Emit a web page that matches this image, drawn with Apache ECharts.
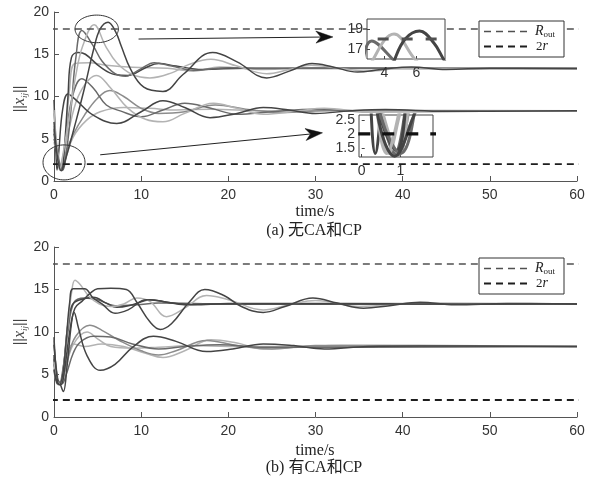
<!DOCTYPE html>
<html><head><meta charset="utf-8">
<script src="https://cdn.jsdelivr.net/npm/echarts@6/dist/echarts.min.js"></script>
<style>html,body{margin:0;padding:0;background:#fff}#c{width:596px;height:482px}</style>
</head><body><div id="c"></div>
<script>
// ---------------- data ----------------
const X_TICKS = [0, 10, 20, 30, 40, 50, 60];
const Y_TICKS = [0, 5, 10, 15, 20];
const INSET1_X_TICKS = [4, 6];
const INSET1_Y_TICKS = [17, 19];
const INSET2_X_TICKS = [0, 1];
const INSET2_Y_TICKS = [1.5, 2, 2.5];
const R_OUT = 18;
const TWO_R = 2;

// (a) without CA and CP — upper group (-> ~13.3)
const a_u1 = [[0,7.0],[0.45,2.4],[0.85,1.2],[1.3,2.5],[2.5,7],[3.5,11],[4.6,15.8],[5.3,18.0],[6.2,18.8],[7.1,17.6],[7.7,16],[8.8,13.2],[10.3,11.1],[12.5,10.6],[14.8,12.6],[18.2,15.2],[21,14.1],[24.4,12.2],[27,13.0],[29.6,13.9],[32,13.5],[34.8,12.9],[37.5,13.2],[41,13.5],[45,13.2],[50,13.35],[60,13.3]];
const a_u2 = [[0,8.4],[0.3,4.0],[0.65,1.3],[1.0,3.0],[1.8,8],[2.5,12.5],[3.3,16],[4.6,18.5],[5.9,16],[7.2,14.0],[9,12.6],[11,12.2],[13.5,12.8],[15.5,13.8],[18,14.4],[21,13.6],[24.4,12.7],[27,13.2],[29.5,13.7],[33,13.3],[36,13.0],[40,13.35],[50,13.3],[60,13.3]];
const a_u3 = [[0,6.2],[0.5,2.6],[1.0,1.3],[1.5,4],[2.0,9],[2.5,14.5],[3.2,17.8],[4.5,16],[5.5,14.2],[7,12.7],[8.2,12.4],[10,13.3],[11.5,14.0],[13.5,13.6],[16,13.1],[20,13.4],[25,13.3],[60,13.3]];
const a_u4 = [[0,5.6],[0.5,2.5],[0.9,1.4],[1.2,4],[1.6,10],[2.0,14.6],[2.8,15.2],[3.6,15.0],[5.3,13.5],[7,12.6],[8.5,12.5],[10.5,13.4],[12,13.9],[14,13.6],[17,13.2],[22,13.35],[60,13.3]];
const a_u5 = [[0,6.5],[0.5,3.0],[0.95,1.3],[1.3,4.5],[1.8,11],[2.4,13.9],[4,14.0],[6,13.7],[9,13.45],[13,13.35],[16,13.0],[19,13.5],[24,13.2],[30,13.4],[60,13.3]];
// (a) lower group (-> ~8.3)
const a_l1 = [[0,9.6],[0.2,4.0],[0.35,1.3],[0.55,3.5],[1.0,8.5],[1.6,10.3],[2.5,9.6],[4.5,7.8],[7.2,6.8],[10,8.2],[12.5,9.5],[15,8.7],[17.9,7.5],[21,8.0],[24,8.7],[27,8.4],[30,8.0],[34,8.3],[38,8.45],[45,8.25],[60,8.3]];
const a_l2 = [[0,5.0],[0.5,2.8],[0.85,1.3],[1.2,3.5],[2.0,9.5],[3.2,12.1],[4.5,11.0],[6,9.0],[7.6,8.3],[10,7.6],[12.5,8.4],[15,9.2],[18,8.6],[21,7.9],[25,8.2],[30,8.5],[36,8.2],[60,8.3]];
const a_l3 = [[0,8.0],[0.4,3.5],[0.7,1.3],[1.0,2.8],[1.8,6.5],[3.0,10.5],[4.9,12.5],[6.5,11.0],[8.5,8.6],[10.5,7.3],[12.5,7.0],[15,8.0],[18.3,9.2],[21,8.6],[24,7.9],[28,8.3],[31,8.6],[36,8.2],[60,8.3]];
const a_l4 = [[0,6.0],[0.5,2.6],[0.95,1.25],[1.3,3.2],[2.2,5.5],[3.5,7.8],[5,9.8],[6.4,10.7],[8,10.0],[10,8.6],[12,8.0],[15,8.2],[18.5,9.0],[22,8.5],[26,8.1],[32,8.35],[60,8.3]];
const a_l5 = [[0,4.6],[0.5,2.5],[0.9,1.35],[1.3,2.5],[2.2,5.2],[3.75,7.2],[5.3,8.2],[8,8.7],[11,8.6],[14,8.4],[18,8.5],[24,8.3],[60,8.3]];

// (b) with CA and CP — upper group
const b_u1 = [[0,5.6],[0.4,4.0],[0.8,3.8],[1.2,5.5],[1.8,10],[2.4,12.8],[3.2,13.6],[4.2,14.6],[5,15.1],[6.5,15.15],[8.3,15.0],[9.5,13.5],[11,11.2],[12.2,10.3],[13.5,11.0],[15.5,13.5],[17.3,15.0],[19.5,14.3],[21.5,13.0],[24,12.3],[26.5,13.0],[29.7,14.0],[32.5,13.4],[35.5,12.8],[38.5,13.1],[42,13.5],[46,13.2],[52,13.35],[60,13.3]];
const b_u2 = [[0,6.5],[0.4,4.2],[0.7,3.9],[1.1,6],[1.6,11],[2.0,14.5],[2.4,16.1],[3.0,15.6],[4.0,14.2],[5.2,13.3],[6.5,13.0],[8,13.3],[9.5,14.0],[11,13.6],[12.9,11.8],[15,12.8],[17.5,14.3],[20,13.8],[24,12.6],[27,13.2],[30,13.7],[35,13.0],[42,13.4],[60,13.3]];
const b_u3 = [[0,9.4],[0.3,5],[0.6,3.8],[1.0,5],[1.4,9],[1.8,13.5],[2.2,15.1],[3.5,15.1],[4.5,14.0],[5.5,13.3],[7,12.2],[8.5,12.6],[10.6,13.8],[12.5,13.6],[15,13.2],[18,13.3],[60,13.3]];
const b_u4 = [[0,7.3],[0.35,4],[0.7,3.9],[1.1,6],[1.6,11],[2.1,13.2],[3,13.8],[4.5,14.1],[6,13.4],[7.2,12.9],[9,13.2],[11,13.8],[13,13.5],[16,13.2],[20,13.35],[60,13.3]];
const b_u5 = [[0,6.2],[0.3,4.2],[0.6,3.9],[1.0,5.5],[1.6,10],[2.3,13.5],[3.5,14.0],[5,13.8],[7,13.1],[9.5,13.2],[12,13.4],[20,13.3],[60,13.3]];
// (b) lower group
const b_l1 = [[0,8.5],[0.4,4.5],[0.7,3.9],[1.07,3.0],[1.5,6],[2.0,11],[2.3,12.3],[2.8,10.5],[3.8,7.2],[5.3,5.5],[7,6.2],[9,8.2],[11.4,9.5],[14,8.9],[17.5,7.7],[20.5,8.0],[24,8.6],[27.5,8.4],[31,8.0],[36,8.3],[42,8.35],[60,8.3]];
const b_l2 = [[0,5.5],[0.3,4.0],[0.6,3.8],[1.0,4.5],[1.6,7],[2.5,9.5],[4.1,10.8],[5.5,10.2],[7.5,9.0],[10,7.8],[12,7.3],[14,7.8],[17.5,9.0],[21,8.4],[25,8.0],[30,8.4],[60,8.3]];
const b_l3 = [[0,7.0],[0.4,4.5],[0.8,4.0],[1.3,5.5],[2.2,8.5],[3.8,10.0],[5,9.2],[6.5,8.3],[9,8.1],[12,8.2],[16,8.4],[20,8.3],[60,8.3]];
const b_l4 = [[0,6.8],[0.4,4.2],[0.9,3.9],[1.4,5.0],[2.2,7.5],[3,8.8],[4.5,9.5],[6.5,9.4],[9,8.6],[12,8.0],[15,8.3],[19,8.5],[24,8.2],[60,8.3]];
const b_l5 = [[0,9.0],[0.3,5.5],[0.7,4.0],[1.1,4.8],[1.5,7.5],[2.2,8.6],[3.5,8.3],[5.5,8.6],[8,8.3],[10.5,7.5],[12.5,7.0],[15,7.8],[18,9.1],[21,8.7],[24,8.0],[28,8.2],[33,8.45],[60,8.3]];

// annotation anchors (data units of plot a)
const ELLIPSE_TOP = [4.9, 18.0];
const ELLIPSE_BOT = [1.15, 2.2];
const ARROW_TOP = [[9.7, 16.8], [32.0, 17.05]];
const ARROW_BOT = [[5.3, 3.1], [30.8, 5.7]];

// ---------------- styles ----------------
const DK = '#444444', MD = '#6a6a6a', GR = '#8c8c8c', LT = '#b3b3b3';
const A_CURVES = [a_l5, a_l4, a_l2, a_l3, a_l1, a_u5, a_u4, a_u3, a_u2, a_u1];
const A_COLORS = [LT, GR, MD, LT, DK, LT, DK, MD, LT, DK];
const B_CURVES = [b_l3, b_l5, b_l2, b_l4, b_l1, b_u5, b_u4, b_u2, b_u3, b_u1];
const B_COLORS = [LT, LT, GR, MD, DK, MD, DK, LT, DK, DK];

const SANS = 'Liberation Sans';
const SERIF = 'Liberation Serif';

const chart = echarts.init(document.getElementById('c'), null, {renderer: 'canvas'});

function curve(data, color, xi, width, z) {
  return {type: 'line', data: data, xAxisIndex: xi, yAxisIndex: xi, symbol: 'none', smooth: 0.4,
    clip: true, silent: true, z: z, lineStyle: {color: color, width: width}};
}
function hline(v, xi, color, width, dash, z) {
  return {type: 'line', data: [[-10, v], [70, v]], xAxisIndex: xi, yAxisIndex: xi, symbol: 'none',
    clip: true, silent: true, z: z, lineStyle: {color: color, width: width, type: dash}};
}
function mainX(gi) {
  return {type: 'value', gridIndex: gi, min: 0, max: 60, interval: 10,
    axisLine: {show: true, lineStyle: {color: '#555', width: 1}},
    axisTick: {show: true, inside: true, length: 5, lineStyle: {color: '#555'}},
    axisLabel: {show: true, color: '#333', fontFamily: SANS, fontSize: 14, margin: 7},
    splitLine: {show: false}};
}
function mainY(gi) {
  return {type: 'value', gridIndex: gi, min: 0, max: 20, interval: 5,
    axisLine: {show: true, lineStyle: {color: '#555', width: 1}},
    axisTick: {show: true, inside: true, length: 5, lineStyle: {color: '#555'}},
    axisLabel: {show: true, color: '#333', fontFamily: SANS, fontSize: 14, margin: 5},
    splitLine: {show: false}};
}
function insetAxis(gi, min, max, ticks, isX) {
  return {type: 'value', gridIndex: gi, min: min, max: max, z: 11,
    axisLine: {show: false},
    axisTick: {show: true, inside: true, length: 3, customValues: ticks, lineStyle: {color: '#444'}},
    axisLabel: {show: true, customValues: ticks, color: '#333', fontFamily: SANS, fontSize: 14, margin: isX ? 7 : 4},
    splitLine: {show: false}};
}

const series = [];
A_CURVES.forEach((d, i) => series.push(curve(d, A_COLORS[i], 0, 1.5, 3)));
series.push(hline(R_OUT, 0, '#505050', 1.5, [7, 5], 4));
series.push(hline(TWO_R, 0, '#1e1e1e', 1.8, [7, 5], 4));
B_CURVES.forEach((d, i) => series.push(curve(d, B_COLORS[i], 1, 1.5, 3)));
series.push(hline(R_OUT, 1, '#505050', 1.5, [7, 5], 4));
series.push(hline(TWO_R, 1, '#1e1e1e', 1.8, [7, 5], 4));
// insets of (a)
A_CURVES.forEach((d, i) => series.push(curve(d, A_COLORS[i], 2, 3, 12)));
series.push(hline(R_OUT, 2, '#505050', 3.2, [11, 13], 13));
A_CURVES.forEach((d, i) => series.push(curve(d, A_COLORS[i], 3, 3, 12)));
series.push(hline(TWO_R, 3, '#111', 3.2, [12, 12], 13));

chart.setOption({
  animation: false,
  backgroundColor: '#fff',
  grid: [
    {left: 54, top: 12, width: 523, height: 169, outerBoundsMode: 'none', containLabel: false},
    {left: 54, top: 247, width: 523, height: 170, outerBoundsMode: 'none', containLabel: false},
    {left: 367, top: 19, width: 78, height: 40, show: true, backgroundColor: '#fff', borderColor: '#444', borderWidth: 1, z: 10, outerBoundsMode: 'none', containLabel: false},
    {left: 359, top: 115, width: 74, height: 42, show: true, backgroundColor: '#fff', borderColor: '#444', borderWidth: 1, z: 10, outerBoundsMode: 'none', containLabel: false}
  ],
  xAxis: [mainX(0), mainX(1), insetAxis(2, 2.9, 7.8, INSET1_X_TICKS, true), insetAxis(3, -0.07, 1.84, INSET2_X_TICKS, true)],
  yAxis: [mainY(0), mainY(1), insetAxis(2, 16, 20, INSET1_Y_TICKS, false), insetAxis(3, 1.17, 2.68, INSET2_Y_TICKS, false)],
  series: series
});

// ---------------- annotations ----------------
const P = (pt) => chart.convertToPixel({xAxisIndex: 0, yAxisIndex: 0}, pt);
function ellipse(c, rx, ry) {
  const p = P(c), pts = [];
  for (let k = 0; k < 72; k++) { const a = k / 72 * Math.PI * 2; pts.push([p[0] + rx * Math.cos(a), p[1] + ry * Math.sin(a)]); }
  return {type: 'polygon', shape: {points: pts}, style: {fill: 'none', stroke: '#333', lineWidth: 1}, z: 20, silent: true};
}
function arrow(seg) {
  const a = P(seg[0]), b = P(seg[1]);
  const dx = b[0] - a[0], dy = b[1] - a[1], L = Math.hypot(dx, dy);
  const ux = dx / L, uy = dy / L, nx = -uy, ny = ux;
  const HL = 17, HW = 6, N = 5;
  const notch = [b[0] - (HL - N) * ux, b[1] - (HL - N) * uy];
  return [
    {type: 'line', shape: {x1: a[0], y1: a[1], x2: notch[0], y2: notch[1]}, style: {stroke: '#222', lineWidth: 1}, z: 20, silent: true},
    {type: 'polygon', shape: {points: [b, [b[0] - HL * ux + HW * nx, b[1] - HL * uy + HW * ny], notch, [b[0] - HL * ux - HW * nx, b[1] - HL * uy - HW * ny]]},
      style: {fill: '#111', stroke: '#111', lineWidth: 0.5}, z: 20, silent: true}
  ];
}
function yName(cy) {
  return {type: 'text', x: 20, y: cy, rotation: Math.PI / 2, z: 20, silent: true,
    style: {text: '{n|||}{i|x}{s|ij}{n|||}', align: 'center', verticalAlign: 'middle', fill: '#444',
      rich: {n: {fontFamily: SANS, fontSize: 14, lineHeight: 18, fill: '#444'},
             i: {fontFamily: SERIF, fontStyle: 'italic', fontSize: 16, lineHeight: 18, fill: '#444'},
             s: {fontFamily: SERIF, fontStyle: 'italic', fontSize: 9, lineHeight: 18, verticalAlign: 'bottom', fill: '#444'}}}};
}
function legend(x, y) {
  const w = 85, h = 36;
  const r1 = y + 10.5, r2 = y + 25.5;
  return [
    {type: 'rect', shape: {x: x, y: y, width: w, height: h}, style: {fill: '#fff', stroke: '#333', lineWidth: 1}, z: 20, silent: true},
    {type: 'line', shape: {x1: x + 5, y1: r1, x2: x + 52, y2: r1}, style: {stroke: '#505050', lineWidth: 1.5, lineDash: [7, 5]}, z: 21, silent: true},
    {type: 'line', shape: {x1: x + 5, y1: r2, x2: x + 52, y2: r2}, style: {stroke: '#1e1e1e', lineWidth: 1.8, lineDash: [7, 5]}, z: 21, silent: true},
    {type: 'text', x: x + 56, y: r1, z: 21, silent: true, style: {text: '{i|R}{s|out}', verticalAlign: 'middle', fill: '#222',
      rich: {i: {fontFamily: SERIF, fontStyle: 'italic', fontSize: 14, lineHeight: 16, fill: '#222'},
             s: {fontFamily: SERIF, fontSize: 9, lineHeight: 16, verticalAlign: 'bottom', fill: '#222'}}}},
    {type: 'text', x: x + 57, y: r2, z: 21, silent: true, style: {text: '{n|2}{i|r}', verticalAlign: 'middle', fill: '#222',
      rich: {n: {fontFamily: SERIF, fontSize: 13, lineHeight: 16, fill: '#222'},
             i: {fontFamily: SERIF, fontStyle: 'italic', fontSize: 14, lineHeight: 16, fill: '#222'}}}}
  ];
}
function txt(text, x, y, size, family) {
  return {type: 'text', x: x, y: y, z: 20, silent: true,
    style: {text: text, align: 'center', verticalAlign: 'middle', fill: '#222', fontFamily: family, fontSize: size}};
}

const g = [];
g.push(ellipse(ELLIPSE_TOP, 21.7, 13.8));
g.push(ellipse(ELLIPSE_BOT, 21, 17.5));
g.push(...arrow(ARROW_TOP));
g.push(...arrow(ARROW_BOT));
g.push(yName(99));
g.push(yName(332));
g.push(...legend(479, 21));
g.push(...legend(479, 258));
g.push(txt('time/s', 315, 212, 16, SERIF));
g.push(txt('time/s', 315, 451, 16, SERIF));
g.push(txt('(a) 无CA和CP', 314, 231, 16, SERIF + ', Noto Sans CJK SC'));
g.push(txt('(b) 有CA和CP', 314, 468, 16, SERIF + ', Noto Sans CJK SC'));
chart.setOption({graphic: {elements: g}});
</script></body></html>
